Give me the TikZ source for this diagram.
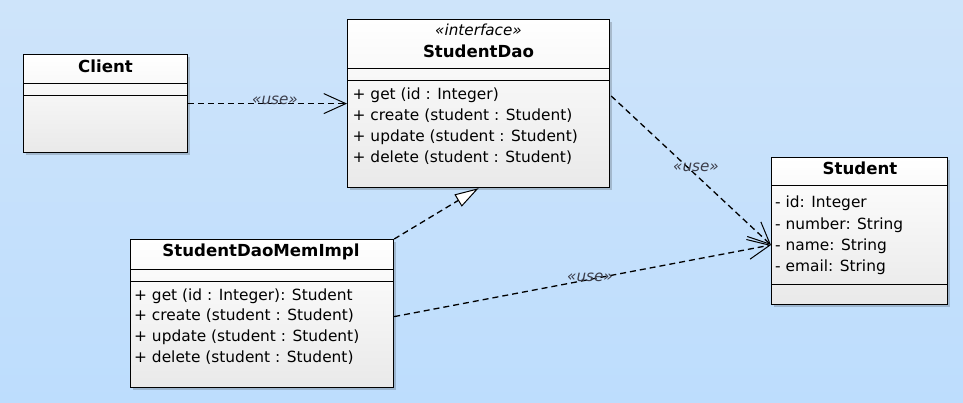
\documentclass[tikz,border=0pt]{standalone}
\usepackage{fontspec}
\setmainfont{DejaVu Sans}
\usetikzlibrary{arrows.meta,calc,shadows}
\definecolor{bgtop}{RGB}{206,228,250}
\definecolor{bgbot}{RGB}{189,221,253}
\definecolor{boxbot}{RGB}{233,233,233}
\definecolor{lblgray}{RGB}{60,62,75}
\begin{document}
\begin{tikzpicture}[x=1pt,y=-1pt,
  cls/.style={draw=black, line width=1.2pt, anchor=north west, top color=white, bottom color=boxbot, inner sep=0pt,
    drop shadow={shadow xshift=2pt, shadow yshift=-2pt, fill=black, opacity=0.18}},
  sep/.style={draw=black, line width=1pt},
  ttl/.style={font=\fontsize{16.6}{20}\selectfont\bfseries, inner sep=0pt},
  ster/.style={font=\fontsize{15.2}{18}\selectfont\itshape, inner sep=0pt},
  mem/.style={font=\fontsize{15.4}{18}\selectfont, inner sep=0pt, anchor=mid west},
  lbl/.style={font=\fontsize{15.2}{18}\selectfont\itshape, text=lblgray, inner sep=0pt},
  use/.style={draw=black, line width=1.3pt, dash pattern=on 6pt off 4pt,
    -{Straight Barb[length=22pt,width=20pt,line width=1pt]}},
  realize/.style={draw=black, line width=1.3pt, dash pattern=on 6pt off 4pt,
    -{Triangle[length=24pt,width=14pt,fill=white,line width=1pt]}}
]
\useasboundingbox (0,0) rectangle (963,403);
\shade[top color=bgtop, bottom color=bgbot] (0,0) rectangle (963,403);

% Client
\node[cls, minimum width=164pt, minimum height=98pt] (client) at (23,54) {};
\draw[sep] ($(client.north west)+(0,30)$) -- ($(client.north east)+(0,30)$);
\draw[sep] ($(client.north west)+(0,42)$) -- ($(client.north east)+(0,42)$);
\node[ttl] (clientT) at (105.5,66) {Client};

% StudentDao
\node[cls, minimum width=262pt, minimum height=168pt] (dao) at (347,19) {};
\draw[sep] ($(dao.north west)+(0,50)$) -- ($(dao.north east)+(0,50)$);
\draw[sep] ($(dao.north west)+(0,62)$) -- ($(dao.north east)+(0,62)$);
\node[ster] (daoS) at (478.5,30) {«interface»};
\node[ttl] (daoT) at (478.5,51.5) {StudentDao};
\node[mem] (daoM1) at (352.5,97) {+ get (id : Integer)};
\node[mem] (daoM2) at (352.5,118) {+ create (student : Student)};
\node[mem] (daoM3) at (352.5,139) {+ update (student : Student)};
\node[mem] (daoM4) at (352.5,160) {+ delete (student : Student)};

% Student
\node[cls, minimum width=176pt, minimum height=147pt] (student) at (771,157) {};
\draw[sep] ($(student.north west)+(0,29)$) -- ($(student.north east)+(0,29)$);
\draw[sep] ($(student.north west)+(0,127)$) -- ($(student.north east)+(0,127)$);
\node[ttl] (studentT) at (860,168.5) {Student};
\node[mem] (stA1) at (775,205) {- id: Integer};
\node[mem] (stA2) at (775,227) {- number: String};
\node[mem] (stA3) at (775,248) {- name: String};
\node[mem] (stA4) at (775,269) {- email: String};

% StudentDaoMemImpl
\node[cls, minimum width=263pt, minimum height=148pt] (impl) at (130,239) {};
\draw[sep] ($(impl.north west)+(0,30)$) -- ($(impl.north east)+(0,30)$);
\draw[sep] ($(impl.north west)+(0,42)$) -- ($(impl.north east)+(0,42)$);
\node[ttl] (implT) at (261,251.5) {StudentDaoMemImpl};
\node[mem] (imM1) at (134,297.5) {+ get (id : Integer): Student};
\node[mem] (imM2) at (134,318) {+ create (student : Student)};
\node[mem] (imM3) at (134,339) {+ update (student : Student)};
\node[mem] (imM4) at (134,360) {+ delete (student : Student)};

% connectors
\coordinate (daoOut) at ($(dao.north east)+(1,77)$);
\coordinate (stIn) at ($(student.north west)+(0,88)$);
\coordinate (implOut) at ($(impl.east)+(0,3)$);
\draw[use] (client.east) -- (dao.west);
\draw[use] (daoOut) -- (stIn);
\draw[use] (implOut) -- (stIn);
\draw[realize] (impl.north east) -- (dao.south);

\node[lbl] (l1) at (275,100) {«use»};
\node[lbl] (l2) at (696,167) {«use»};
\node[lbl] (l3) at (590,277.5) {«use»};
\end{tikzpicture}
\end{document}
